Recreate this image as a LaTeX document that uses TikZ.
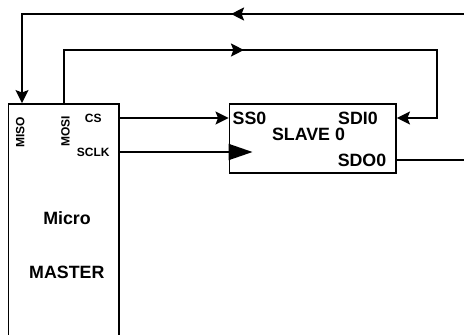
\documentclass[tikz,border=0pt]{standalone}
\usepackage{fontspec}
\setmainfont{Liberation Sans}
\usetikzlibrary{arrows.meta,decorations.markings}

\begin{document}
\begin{tikzpicture}[x=1pt, y=-1pt, line width=1.9pt, >={Stealth[length=13pt, width=13pt, inset=2.5pt]}]
    \tikzstyle{every node}=[inner sep=0pt, font=\fontsize{17.8}{20}\selectfont\bfseries]
    \tikzstyle{pin}=[font=\fontsize{12}{14}\selectfont\bfseries]
    \tikzset{midarrow/.style={postaction={decorate}, decoration={markings, mark=at position #1 with {\arrow{>}}}}}
    \clip (0,0) rectangle (464,335);
    % boxes
    \node [draw, minimum width=110.5pt, minimum height=241pt] (master) at (63.75,224.5) {};
    \node [draw, minimum width=166.5pt, minimum height=68.7pt] (slave) at (312.75,138.35) {};
    \node (micro) at (67,218) {Micro};
    \node (mastertxt) at (66.8,272.5) {MASTER};
    \node [pin, rotate=90] (miso) at (20.3,132) {MISO};
    \node [pin, rotate=90] (mosi) at (65.5,131.5) {MOSI};
    \node [pin] (cs) at (93.3,118) {CS};
    \node [pin] (sclk) at (93.3,152) {SCLK};
    \node [anchor=west] (ss0) at (231.7,118) {SS0};
    \node (sdi) at (358,118) {SDI0};
    \node (slavetxt) at (308.5,134.5) {SLAVE 0};
    \node (sdo) at (362,160) {SDO0};
    % corners of the loops
    \coordinate (tl) at (22,14);
    \coordinate (tr) at (475,14);
    \coordinate (ml) at (64,50);
    \coordinate (mr) at (437,50);
    % signals
    \draw [->] (master.east |- cs) -- (slave.west |- cs);
    \draw [-{Triangle[length=24pt,width=16pt]}, shorten >=-24pt] (master.east |- sclk) -- (slave.west |- sclk);
    \draw [->, midarrow=233pt] (master.north -| ml) -- (ml) -- (mr) |- (slave.east |- sdi);
    \draw [->, midarrow=468pt] (slave.east |- sdo) -- (tr |- sdo) -- (tr) -- (tl) -- (master.north -| tl);
\end{tikzpicture}
\end{document}
